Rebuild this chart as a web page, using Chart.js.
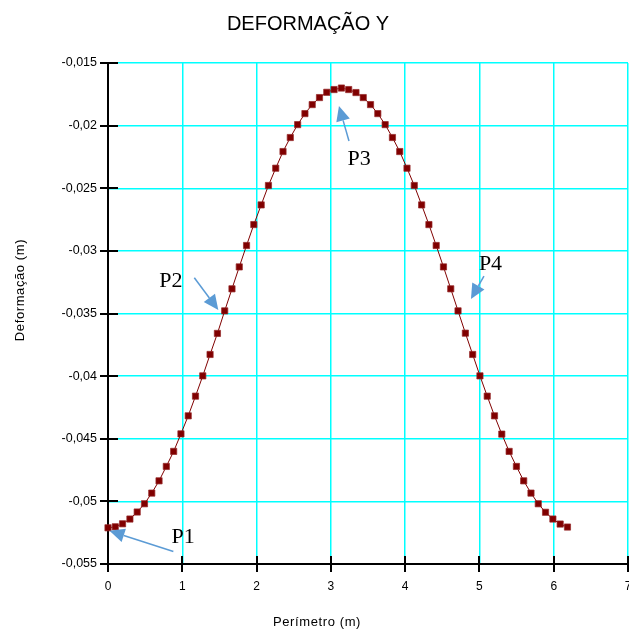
<!DOCTYPE html>
<html>
<head>
<meta charset="utf-8">
<title>Deformação Y</title>
<script src="https://cdn.jsdelivr.net/npm/chart.js@4/dist/chart.umd.min.js"></script>
<style>
  html, body { margin: 0; padding: 0; background: #fff; overflow: hidden; }
  #wrap { width: 629px; height: 635px; position: relative; }
</style>
</head>
<body>
<div id="wrap"><canvas id="deformChart"></canvas></div>
<script>
// perimeter position along the section (m)
const perimetro = [
  0, 0.098, 0.196, 0.295, 0.393, 0.491, 0.589, 0.687, 0.785, 0.884,
  0.982, 1.08, 1.178, 1.276, 1.374, 1.473, 1.571, 1.669, 1.767, 1.865,
  1.963, 2.062, 2.16, 2.258, 2.356, 2.454, 2.553, 2.651, 2.749, 2.847,
  2.945, 3.043, 3.142, 3.24, 3.338, 3.436, 3.534, 3.632, 3.731, 3.829,
  3.927, 4.025, 4.123, 4.222, 4.32, 4.418, 4.516, 4.614, 4.712, 4.811,
  4.909, 5.007, 5.105, 5.203, 5.301, 5.4, 5.498, 5.596, 5.694, 5.792,
  5.89, 5.989, 6.087, 6.185
];

// vertical displacement at each position (m)
const deformacao = [
  -0.05211, -0.05203, -0.05179, -0.05141, -0.05085, -0.05019, -0.04934, -0.04836, -0.04721, -0.04601,
  -0.04461, -0.04317, -0.0416, -0.03998, -0.03827, -0.03659, -0.03479, -0.03303, -0.03128, -0.02957,
  -0.0279, -0.02633, -0.02478, -0.0234, -0.02207, -0.02095, -0.01992, -0.01904, -0.01832, -0.01776,
  -0.01734, -0.01712, -0.017, -0.01712, -0.01736, -0.01776, -0.01832, -0.01904, -0.01992, -0.02095,
  -0.02207, -0.0234, -0.02478, -0.02633, -0.0279, -0.02957, -0.03128, -0.03303, -0.03479, -0.03657,
  -0.03827, -0.03998, -0.0416, -0.04317, -0.04463, -0.04601, -0.04721, -0.04836, -0.04934, -0.05019,
  -0.05087, -0.05141, -0.05181, -0.05205
];

const xTicks = [0, 1, 2, 3, 4, 5, 6, 7];
const yTicks = [-0.055, -0.05, -0.045, -0.04, -0.035, -0.03, -0.025, -0.02, -0.015];

const titulo = 'DEFORMAÇÃO Y';
const tituloX = 'Perímetro (m)';
const tituloY = 'Deformação (m)';

// point labels with their arrows, in data units
const notas = [
  { text: 'P1', at: [1.01, -0.0529], from: [0.88, -0.0540], to: [0.02, -0.05235] },
  { text: 'P2', at: [0.845, -0.03239], from: [1.162, -0.03214], to: [1.485, -0.03472] },
  { text: 'P3', at: [3.379, -0.02266], from: [3.244, -0.02123], to: [3.109, -0.01843] },
  { text: 'P4', at: [5.149, -0.03105], from: [5.061, -0.03201], to: [4.886, -0.03384] }
];

const SANS = '"Liberation Sans", Arial, sans-serif';
const SERIF = '"Liberation Serif", "Times New Roman", serif';

const fmtNum = v => String(Math.round(v * 1000) / 1000).replace('.', ',');

// keep the plot area flush with the canvas edges regardless of end labels
const noEdgePadding = s => ({ left: 0, right: 0, top: 0, bottom: 0 });

// black tick marks crossing both axes
const axisMarks = {
  id: 'axisMarks',
  beforeDatasetsDraw(chart) {
    const { ctx, scales: { x, y }, chartArea } = chart;
    ctx.save();
    ctx.strokeStyle = '#000';
    ctx.lineWidth = 2;
    ctx.beginPath();
    yTicks.forEach(v => {
      const py = Math.round(y.getPixelForValue(v));
      ctx.moveTo(chartArea.left - 8, py);
      ctx.lineTo(chartArea.left + 10, py);
    });
    xTicks.forEach(v => {
      const px = Math.round(x.getPixelForValue(v));
      ctx.moveTo(px, chartArea.bottom - 8);
      ctx.lineTo(px, chartArea.bottom + 8);
    });
    ctx.stroke();
    ctx.restore();
  }
};

// chart title, axis titles and the P1..P4 callouts
const labelsPlugin = {
  id: 'labelsPlugin',
  afterDatasetsDraw(chart) {
    const { ctx, scales: { x, y } } = chart;
    ctx.save();
    ctx.fillStyle = '#000';
    ctx.textAlign = 'center';
    ctx.textBaseline = 'alphabetic';
    ctx.font = '20px ' + SANS;
    ctx.fillText(titulo, 308, 30);

    ctx.font = '13px ' + SANS;
    ctx.letterSpacing = '0.6px';
    ctx.textBaseline = 'middle';
    ctx.fillText(tituloX, 317, 622);
    ctx.save();
    ctx.translate(20, 290);
    ctx.rotate(-Math.PI / 2);
    ctx.fillText(tituloY, 0, 0);
    ctx.restore();
    ctx.letterSpacing = '0px';

    ctx.font = '22px ' + SERIF;
    notas.forEach(n => {
      ctx.fillStyle = '#000';
      ctx.fillText(n.text, x.getPixelForValue(n.at[0]), y.getPixelForValue(n.at[1]));

      const x0 = x.getPixelForValue(n.from[0]), y0 = y.getPixelForValue(n.from[1]);
      const x1 = x.getPixelForValue(n.to[0]), y1 = y.getPixelForValue(n.to[1]);
      const ang = Math.atan2(y1 - y0, x1 - x0);
      const len = 15, half = 7;
      const bx = x1 - len * Math.cos(ang), by = y1 - len * Math.sin(ang);
      ctx.strokeStyle = '#5b9bd5';
      ctx.fillStyle = '#5b9bd5';
      ctx.lineWidth = 1.5;
      ctx.beginPath();
      ctx.moveTo(x0, y0);
      ctx.lineTo(bx, by);
      ctx.stroke();
      ctx.beginPath();
      ctx.moveTo(x1, y1);
      ctx.lineTo(bx + half * Math.sin(ang), by - half * Math.cos(ang));
      ctx.lineTo(bx - half * Math.sin(ang), by + half * Math.cos(ang));
      ctx.closePath();
      ctx.fill();
    });
    ctx.restore();
  }
};

const ctx = document.getElementById('deformChart').getContext('2d');
new Chart(ctx, {
  type: 'line',
  data: {
    datasets: [{
      data: perimetro.map((p, i) => ({ x: p, y: deformacao[i] })),
      borderColor: '#800000',
      borderWidth: 1,
      backgroundColor: '#800000',
      pointStyle: 'rect',
      pointRadius: 4.4,
      pointBackgroundColor: '#800000',
      pointBorderColor: 'rgba(150,40,40,0.7)',
      pointBorderWidth: 1,
      tension: 0,
      clip: false
    }]
  },
  options: {
    responsive: true,
    maintainAspectRatio: false,
    animation: false,
    layout: { autoPadding: false, padding: { top: 63, right: 1, bottom: 0, left: 0 } },
    plugins: {
      legend: { display: false },
      tooltip: { enabled: false },
      title: { display: false }
    },
    scales: {
      x: {
        type: 'linear',
        min: 0,
        max: 7,
        afterBuildTicks: s => { s.ticks = xTicks.map(v => ({ value: v })); },
        afterFit: s => {
          s.height = 71;
          s.paddingLeft = 0;
          s.paddingRight = 0;
          s.getPadding = noEdgePadding;
        },
        grid: { color: '#00ffff', lineWidth: 1.5, drawTicks: false },
        border: { color: '#000', width: 2 },
        ticks: {
          padding: 15,
          color: '#000',
          maxRotation: 0,
          autoSkip: false,
          font: { family: SANS, size: 12 },
          callback: v => fmtNum(v)
        }
      },
      y: {
        type: 'linear',
        min: -0.055,
        max: -0.015,
        afterBuildTicks: s => { s.ticks = yTicks.map(v => ({ value: v })); },
        afterFit: s => {
          s.width = 108;
          s.paddingTop = 0;
          s.paddingBottom = 0;
          s.getPadding = noEdgePadding;
        },
        grid: { color: '#00ffff', lineWidth: 1.5, drawTicks: false },
        border: { color: '#000', width: 2 },
        ticks: {
          padding: 11,
          color: '#000',
          autoSkip: false,
          font: { family: SANS, size: 12.5 },
          callback: v => fmtNum(v)
        }
      }
    }
  },
  plugins: [axisMarks, labelsPlugin]
});
</script>
</body>
</html>
